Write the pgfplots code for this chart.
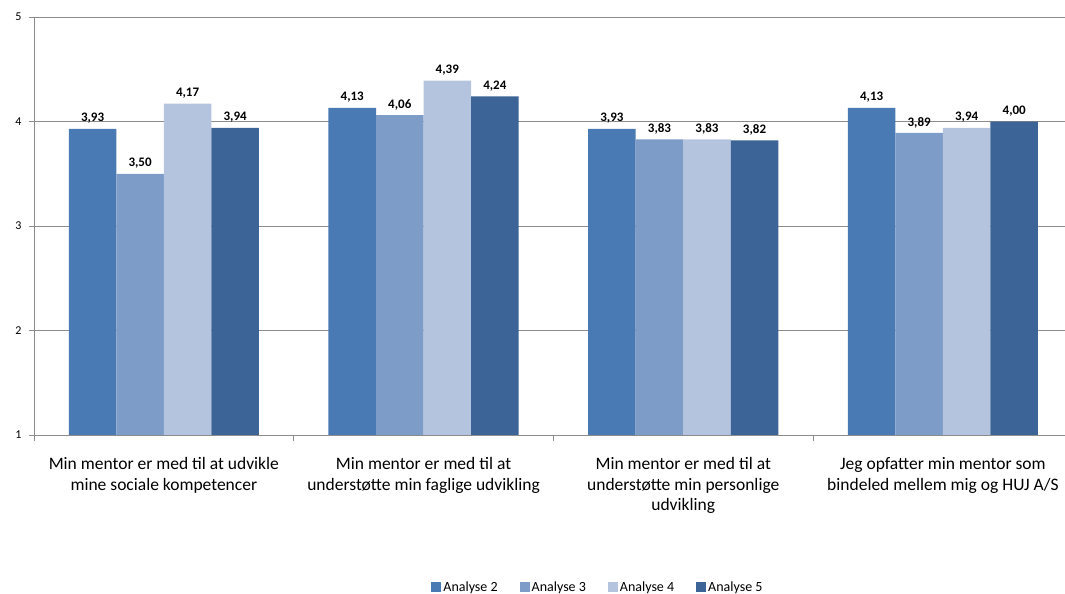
\documentclass[border=0pt]{standalone}
\usepackage{pgfplots}
\pgfplotsset{compat=1.18}
\usepackage{fontspec}
\setmainfont{Carlito}
\definecolor{cA}{RGB}{74,122,180}
\definecolor{cB}{RGB}{126,156,200}
\definecolor{cC}{RGB}{181,196,222}
\definecolor{cD}{RGB}{60,100,150}
\definecolor{gridc}{RGB}{140,140,140}
\begin{document}
\begin{tikzpicture}
\path[use as bounding box] (0,0) rectangle (1065bp,594bp);
\begin{axis}[
  at={(34bp,159bp)}, anchor=south west,
  scale only axis, width=1031bp, height=418bp,
  xmin=-0.5, xmax=3.47, ymin=1, ymax=5,
  axis x line*=bottom, axis y line*=left,
  axis line style={gridc, line width=0.8bp},
  ytick={1,2,3,4,5},
  ymajorgrids, grid style={gridc, line width=0.8bp},
  tick align=outside, major tick length=5bp,
  ytick style={gridc, line width=0.8bp},
  yticklabel style={font=\fontsize{12bp}{14bp}\selectfont, xshift=-4bp},
  /pgf/number format/assume math mode=true,
  xtick={0,1,2,3},
  xtick style={draw=none},
  xticklabels={{Min mentor er med til at udvikle\\mine sociale kompetencer},
               {Min mentor er med til at\\understøtte min faglige udvikling},
               {Min mentor er med til at\\understøtte min personlige\\udvikling},
               {Jeg opfatter min mentor som\\bindeled mellem mig og HUJ A/S}},
  xticklabel style={align=center, font=\fontsize{17.5bp}{20.5bp}\selectfont, yshift=-14bp},
  extra x ticks={-0.5,0.5,1.5,2.5},
  extra x tick labels={},
  extra x tick style={xtick style={draw=gridc, line width=0.8bp}, major tick length=6bp},
  ybar=0pt, bar width=0.183,
  every axis plot/.append style={draw=none},
  nodes near coords={\pgfmathprintnumber[fixed,fixed zerofill,precision=2,use comma]{\pgfplotspointmeta}},
  nodes near coords style={font=\bfseries\fontsize{13bp}{15bp}\selectfont, text=black, inner sep=2bp, yshift=3bp},
  legend style={at={(0.547,-0.364)}, anchor=center, draw=none, legend columns=4,
    font=\fontsize{14bp}{16bp}\selectfont,
    /tikz/every even column/.append style={column sep=20bp}},
  legend image code/.code={\fill[#1] (0bp,-5bp) rectangle (10bp,5bp);},
]
\addplot[fill=cA] coordinates {(0,3.93) (1,4.13) (2,3.93) (3,4.13)};
\addplot[fill=cB] coordinates {(0,3.50) (1,4.06) (2,3.83) (3,3.89)};
\addplot[fill=cC] coordinates {(0,4.17) (1,4.39) (2,3.83) (3,3.94)};
\addplot[fill=cD] coordinates {(0,3.94) (1,4.24) (2,3.82) (3,4.00)};
\legend{Analyse 2, Analyse 3, Analyse 4, Analyse 5}
\end{axis}
\end{tikzpicture}
\end{document}
